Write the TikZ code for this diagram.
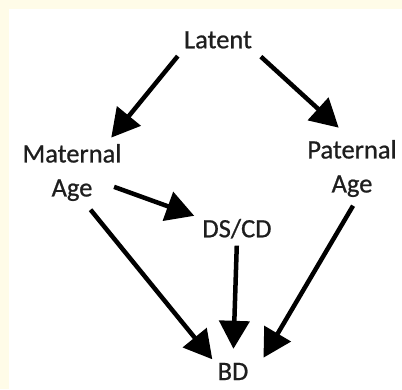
\documentclass[tikz,border=0pt]{standalone}
\usepackage{fontspec}
\setmainfont{Carlito}
\newfontfamily\varfont[FakeBold=0.7]{Carlito}
\usetikzlibrary{arrows.meta}
\definecolor{framecol}{RGB}{255,252,232}
\definecolor{textcol}{RGB}{30,30,30}
\tikzset{
  var/.style   = {align=center, inner sep=0pt, text=textcol,
                  font=\varfont\fontsize{26.5}{34}\selectfont},
  cause/.style = {-{Triangle[length=28pt,width=30pt]}, line width=4.5pt,
                  draw=black},
}

\begin{document}
\begin{tikzpicture}[x=1pt, y=1pt]
  \useasboundingbox (0,0) rectangle (402,389);
  \fill[framecol] (0,0) rectangle (402,389);
  \fill[white] (9,0) rectangle (402,380);

  \node[var, anchor=base] (lat) at (218,340.7) {Latent};
  \node[var] (mat) at (72,216.5) {Maternal\\Age};
  \node[var] (pat) at (352,220.5) {Paternal\\Age};
  \node[var, anchor=base] (dsc) at (237,151.7) {DS/CD};
  \node[var, anchor=base, inner xsep=8pt] (bd) at (233,9) {BD};

  % latent cause of both parental ages
  \draw[cause, shorten <=9.6pt, shorten >=8pt] (lat.south west) -- (mat.40);
  \draw[cause, shorten <=11.8pt, shorten >=18pt] (lat.south east) -- (pat.north);

  % paths into BD
  \draw[cause, shorten <=-8pt, shorten >=8.5pt] (mat.-19) -- (dsc.north west);
  \draw[cause, shorten <=11pt, shorten >=4.5pt] (mat.-68) -- (bd.154);
  \draw[cause, shorten <=7pt, shorten >=14pt] (dsc.south) -- (bd.north);
  \draw[cause, shorten <=9.9pt, shorten >=13.6pt] (pat.-78) -- (bd.5);
\end{tikzpicture}
\end{document}
